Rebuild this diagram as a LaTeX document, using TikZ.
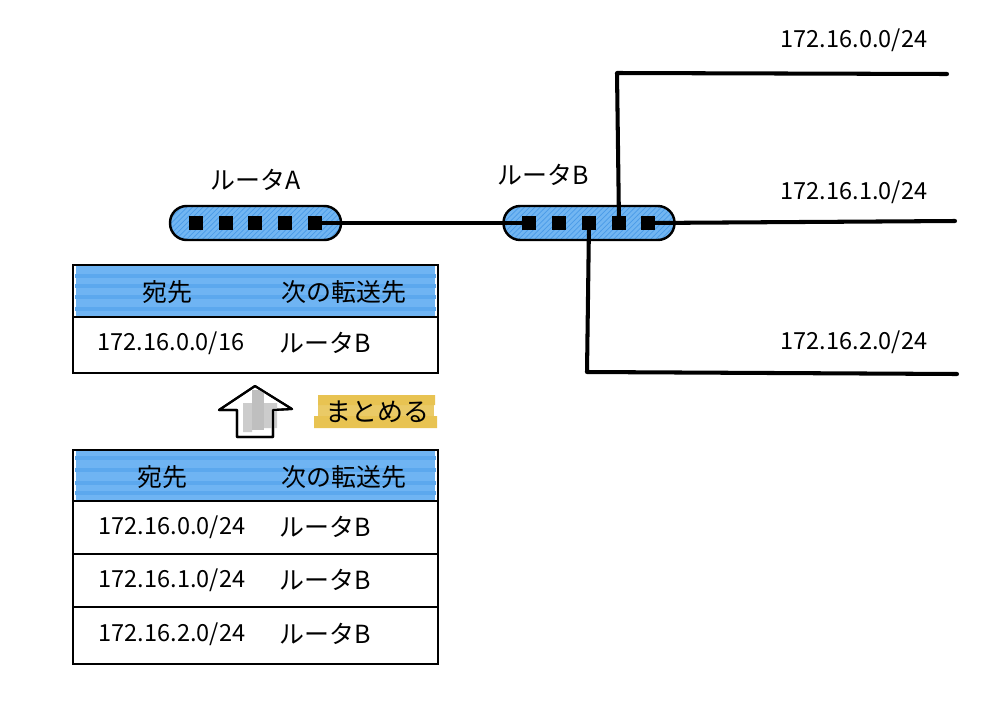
\documentclass[tikz,border=0pt]{standalone}
\usepackage{fontspec}
\setmainfont{Noto Sans CJK JP}
\usetikzlibrary{patterns}
\definecolor{headblue}{HTML}{6FB4F3}
\definecolor{stripeblue}{HTML}{5CA8EE}
\definecolor{routerblue}{HTML}{72B6F2}
\definecolor{hatchblue}{HTML}{4A9BE8}
\definecolor{markyellow}{HTML}{EACA66}
\definecolor{stripeyellow}{HTML}{E8C352}
\tikzset{
  router/.style={draw,line width=1.4pt,rounded corners=9.5pt,minimum width=3.42cm,minimum height=.68cm,
    preaction={fill=routerblue},pattern=north east lines,pattern color=hatchblue},
  port/.style={fill=black,inner sep=0pt,minimum size=.28cm},
  wire/.style={line width=2.3pt,line cap=round,line join=round},
  headfill/.style={fill=headblue,inner sep=0pt,minimum width=7.2cm,minimum height=1cm},
  rowbox/.style={draw,line width=1.2pt,inner sep=0pt,minimum width=7.3cm},
  stripe/.style={stripeblue,line width=2.5pt},
  label/.style={inner sep=0pt,font=\fontsize{14.2}{16}\selectfont},
  net/.style={inner sep=0pt,font=\fontsize{13.4}{16}\selectfont}
}
\begin{document}
\begin{tikzpicture}[x=.02cm,y=-.02cm]
  \useasboundingbox (0,0) rectangle (1000,700);
  % routers
  \node[router] (routerA) at (255.5,223) {};
  \node[router] (routerB) at (589,223) {};
  \node[label] (nameA) at (256,180) {ルータA};
  \node[label] (nameB) at (543,175) {ルータB};
  \foreach \i/\x in {1/196,2/226,3/255,4/285,5/315} \node[port] (a\i) at (\x,223) {};
  \foreach \i/\x in {1/529,2/559,3/589,4/619,5/648} \node[port] (b\i) at (\x,223) {};
  % networks
  \coordinate (up) at (617,73);
  \coordinate (down) at (587,372);
  \coordinate (net0) at (947,74);
  \coordinate (net1) at (955,221);
  \coordinate (net2) at (957,374);
  \draw[wire] (a5.center) -- (b1.west);
  \draw[wire] (b4.center) -- (up) -- (net0);
  \draw[wire] (b5.center) -- (net1);
  \draw[wire] (b3.center) -- (down) -- (net2);
  \node[net] (lan0) at (854,40) {172.16.0.0/24};
  \node[net] (lan1) at (854,192) {172.16.1.0/24};
  \node[net] (lan2) at (854,342) {172.16.2.0/24};
  % table after
  \node[headfill] (fillA) at (255.5,291) {};
  \foreach \y in {276,286,297,309} \draw[stripe] (fillA.west |- 0,\y) -- (fillA.east |- 0,\y);
  \node[rowbox,minimum height=1.04cm] (headA) at (255.5,291) {};
  \node[rowbox,minimum height=1.12cm] (rowA) at (255.5,345) {};
  \node[label] (destA) at (167,292) {宛先};
  \node[label] (nextA) at (344,292) {次の転送先};
  \node[net] (addrA) at (171,343) {172.16.0.0/16};
  \node[label] (hopA) at (325,343) {ルータB};
  % arrow and mark
  \draw[line width=1.2pt,line join=round,fill=white] (255,386) -- (292,409) -- (273,410) -- (273,437) -- (237,437) -- (237,410) -- (219,410) -- cycle;
  \fill[black!20] (243,403) rectangle (252,432) (264,403) rectangle (277,428);
  \fill[black!25] (252,390) rectangle (264,430);
  \draw[line width=1.2pt,line join=round] (255,386) -- (292,409) -- (273,410) -- (273,437) -- (237,437) -- (237,410) -- (219,410) -- cycle;
  \node[fill=markyellow,inner sep=0pt,minimum width=2.34cm,minimum height=.64cm] (markbox) at (376,412) {};
  \fill[stripeyellow] (318,395) rectangle (435,405) (314,416) rectangle (437,428);
  \node[label,font=\fontsize{14.8}{16}\selectfont] (mark) at (377,412) {まとめる};
  % table before
  \node[headfill] (fillB) at (255.5,476) {};
  \foreach \y in {458,470,483,493} \draw[stripe] (fillB.west |- 0,\y) -- (fillB.east |- 0,\y);
  \node[rowbox,minimum height=1.02cm] (headB) at (255.5,475.5) {};
  \node[rowbox,minimum height=1.06cm] (row0) at (255.5,527.5) {};
  \node[rowbox,minimum height=1.06cm] (row1) at (255.5,580.5) {};
  \node[rowbox,minimum height=1.14cm] (row2) at (255.5,635.5) {};
  \node[label] (destB) at (162,477) {宛先};
  \node[label] (nextB) at (344,477) {次の転送先};
  \node[net] (addr0) at (172,527) {172.16.0.0/24};
  \node[net] (addr1) at (172,580) {172.16.1.0/24};
  \node[net] (addr2) at (172,634) {172.16.2.0/24};
  \foreach \i/\y in {0/527,1/580,2/634} \node[label] (hop\i) at (325,\y) {ルータB};
\end{tikzpicture}
\end{document}
